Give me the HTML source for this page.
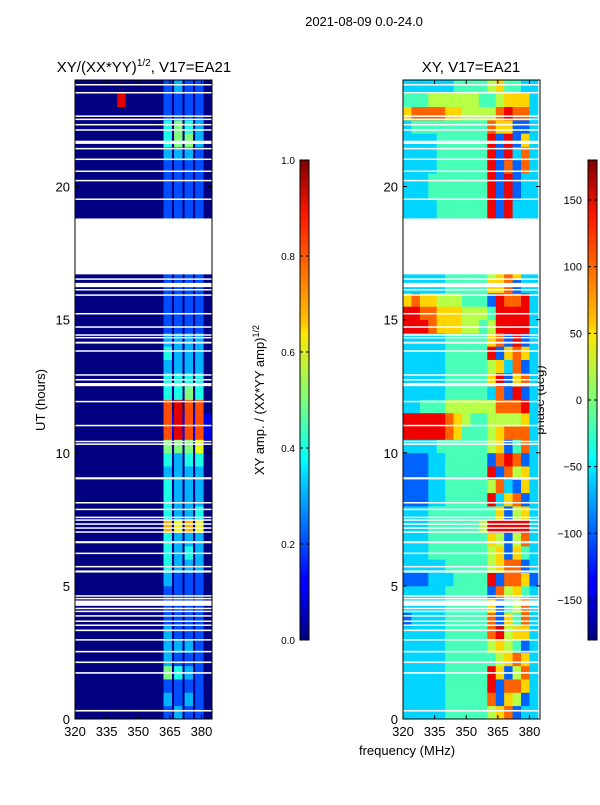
<!DOCTYPE html>
<html><head><meta charset="utf-8"><style>
body{margin:0;background:#fff;}
svg text{font-family:"Liberation Sans",sans-serif;fill:#000;}
</style></head><body>
<svg id="fig" width="600" height="800" xmlns="http://www.w3.org/2000/svg">
<defs>
<linearGradient id="jet" x1="0" y1="1" x2="0" y2="0">
<stop offset="0" stop-color="#00007f"/><stop offset="0.11" stop-color="#0000ff"/><stop offset="0.125" stop-color="#0000ff"/>
<stop offset="0.34" stop-color="#00d4ff"/><stop offset="0.375" stop-color="#00ffff"/><stop offset="0.5" stop-color="#7dff7a"/>
<stop offset="0.64" stop-color="#ffe600"/><stop offset="0.66" stop-color="#ffc400"/><stop offset="0.89" stop-color="#ff1300"/><stop offset="1" stop-color="#7f0000"/>
</linearGradient>
</defs>
<text x="364" y="26" font-size="13" text-anchor="middle">2021-08-09 0.0-24.0</text>
<text x="144" y="72" font-size="15" text-anchor="middle">XY/(XX*YY)<tspan font-size="10" dy="-6">1/2</tspan><tspan dy="6">, V17=EA21</tspan></text>
<text x="471" y="72" font-size="15" text-anchor="middle">XY, V17=EA21</text>
<text x="407" y="755" font-size="13" text-anchor="middle">frequency (MHz)</text>
<text transform="translate(45,400) rotate(-90)" font-size="13" text-anchor="middle">UT (hours)</text>
<text transform="translate(264,400) rotate(-90)" font-size="13" text-anchor="middle">XY amp. / (XX*YY amp)<tspan font-size="9" dy="-5">1/2</tspan></text>
<text transform="translate(544,400) rotate(-90)" font-size="13" text-anchor="middle">phase (deg)</text>
<g id="left"></g>
<g id="right"></g>
<g id="axes"></g>
<rect x="300" y="160" width="9" height="480" fill="url(#jet)" stroke="#000" stroke-width="1"/>
<rect x="588" y="160" width="9" height="480" fill="url(#jet)" stroke="#000" stroke-width="1"/>
<g id="cbars"></g>
</svg>
<script>
const ampFreqEdges=[320,324,328,332,336,340,344,348,352,356,360,362,366,367,371,372,376,377,381,385];
const phaseFreqEdges=[320,324,328,332,336,340,344,348,352,356,360,364,368,372,376,380,384];
const xTicks=[320,335,350,365,380];
const yTicks=[0,5,10,15,20];
const ampTicks=["0.0","0.2","0.4","0.6","0.8","1.0"];
const phaseTicks=[-150,-100,-50,0,50,100,150];
const ampRows=["0000000000020302020","0000000000030203020","0000000000020202020","0000000000050403020","0000000000030202020","0000000000030303020","0000000000030202020","0000000000020202020","0000000000020202020","0000000000020202020","0000000000030202020","0000000000040303030","0000000000040304030","0000000000040303030","0000000000070607060","0000000000040303040","0000000000040303030","0000000000040303030","0000000000030303030","0000000000040304040","0000000000050505060","0000000000081918181","0000000000081918181","0000000000080908080","0000000000040405040","0000000000040404040","0000000000030303030","0000000000040303030","0000000000030303030","0000000000020202020","0000000000020202020","0000000000020202020","0000000000020202020","0000000000020202020","0000000000000000000","0000000000000000000","0000000000000000000","0000000000020202020","0000000000020202020","0000000000020202020","0000000000020202020","0000000000020202020","0000000000030303020","0000000000040505030","0000000000040504030","0000000000020202020","0000090000020202020","0000000000020302020"];
const phaseRows=["3333344444567233","3333344444726523","3333344444827763","3333344444862573","3333344444456763","3333344444565423","3333344444785663","2333344444726473","3333344444624573","3333344444275643","2223334444827762","3333344444567723","3334444444562643","3334444444652573","3334444445888883","3334444444462563","2223344444836723","2223344444573263","2223344444827563","2223344444278723","3333444444562473","8888876444567773","8888876544555563","3344455555577783","3333344444372823","3333344444682673","3333344444563723","3333344444826763","3333344444672823","8887666554588883","8877666555488883","6766555444287783","3333344444667233","3333344444567633","0000000000000000","0000000000000000","0000000000000000","3333444444828333","3333444444828333","3334444444828233","3334444444828233","3333444444827273","3333444444828373","3333444444828263","3444444444766223","6777766555578773","4445555554456663","3333334444564433"];
const flags=[[0.28,0.34],[1.7,1.76],[2.1,2.16],[2.5,2.56],[2.95,3.0],[3.3,3.36],[3.5,3.55],[3.65,3.7],[3.85,3.9],[4.02,4.07],[4.13,4.18],[4.25,4.45],[4.5,4.55],[4.6,4.65],[5.5,5.58],[5.7,5.75],[6.2,6.25],[6.6,6.68],[7.0,7.05],[7.15,7.2],[7.3,7.35],[7.45,7.5],[7.55,7.6],[7.85,7.9],[8.1,8.15],[9.0,9.08],[10.3,10.35],[10.4,10.45],[11.0,11.05],[11.9,11.95],[12.5,12.62],[12.72,12.77],[12.9,12.95],[13.8,13.85],[14.1,14.17],[14.3,14.35],[14.4,14.45],[14.7,14.75],[15.2,15.25],[15.9,15.95],[16.1,16.15],[16.22,16.38],[16.5,16.55],[16.7,18.8],[19.5,19.55],[20.2,20.25],[20.55,20.6],[21.0,21.05],[21.4,21.45],[21.6,21.72],[22.1,22.15],[22.3,22.35],[22.5,22.55],[22.62,22.67],[23.5,23.55],[23.8,23.85]];
const NS="http://www.w3.org/2000/svg";
const PY0=719,PY1=80;
function yS(h){return PY0-(h/24)*(PY0-PY1);}
function xS(f,x0){return x0+Math.min(137,(f-320)*(137/65));}
function jet(v){v=Math.max(0,Math.min(1,v));
 const r=Math.max(0,Math.min(1,Math.min(4*v-1.5,-4*v+4.5)));
 const g=Math.max(0,Math.min(1,Math.min(4*v-0.5,-4*v+3.5)));
 const b=Math.max(0,Math.min(1,Math.min(4*v+0.5,-4*v+2.5)));
 return `rgb(${Math.round(r*255)},${Math.round(g*255)},${Math.round(b*255)})`;}
function mk(tag,attrs,parent){const e=document.createElementNS(NS,tag);for(const k in attrs)e.setAttribute(k,attrs[k]);parent.appendChild(e);return e;}
function drawMap(g,rows,edges,x0,conv){
 rows.forEach((row,r)=>{
  for(let c=0;c<edges.length-1;c++){
   const v=conv(+row[c]);
   const xa=xS(edges[c],x0),xb=xS(edges[c+1],x0);
   const ya=yS((r+1)/2),yb=yS(r/2);
   const e=mk('rect',{x:xa,y:ya,width:xb-xa+0.4,height:yb-ya+0.4,fill:jet(v)},g);
   
   
  }});
 flags.forEach(f=>{
  const e=mk('rect',{x:x0,y:yS(f[1]),width:137,height:Math.max(1.5,yS(f[0])-yS(f[1])),fill:'#fff'},g);
  
  
 });}
drawMap(document.getElementById('left'),ampRows,ampFreqEdges,75,d=>d/10);
drawMap(document.getElementById('right'),phaseRows,phaseFreqEdges,403,d=>d/9);
const ax=document.getElementById('axes');
[75,403].forEach((x0,i)=>{
 const fr=mk('rect',{x:x0,y:80,width:137,height:639,fill:'none',stroke:'#000','stroke-width':1},ax);
 
 
 xTicks.forEach(t=>{const x=xS(t,x0);
  mk('line',{x1:x,x2:x,y1:719,y2:715,stroke:'#000'},ax);mk('line',{x1:x,x2:x,y1:80,y2:84,stroke:'#000'},ax);
  const tx=mk('text',{x:x,y:736,'font-size':13,'text-anchor':'middle'},ax);tx.textContent=t;
  
  });
 yTicks.forEach(t=>{const y=yS(t);
  mk('line',{x1:x0,x2:x0+4,y1:y,y2:y,stroke:'#000'},ax);mk('line',{x1:x0+137,x2:x0+133,y1:y,y2:y,stroke:'#000'},ax);
  const tx=mk('text',{x:x0-5,y:y+5,'font-size':13,'text-anchor':'end'},ax);tx.textContent=t;
  
  });
});
const cb=document.getElementById('cbars');
ampTicks.forEach((t,i)=>{const y=640-i*96;
 mk('line',{x1:300,x2:303,y1:y,y2:y,stroke:'#000'},cb);mk('line',{x1:306,x2:309,y1:y,y2:y,stroke:'#000'},cb);
 const tx=mk('text',{x:295,y:y+4,'font-size':10,'text-anchor':'end'},cb);tx.textContent=t;
 
 });
phaseTicks.forEach(t=>{const y=640-(t+180)/360*480;
 mk('line',{x1:588,x2:591,y1:y,y2:y,stroke:'#000'},cb);mk('line',{x1:594,x2:597,y1:y,y2:y,stroke:'#000'},cb);
 const tx=mk('text',{x:582,y:y+4,'font-size':11,'text-anchor':'end'},cb);tx.textContent=t<0?'\u2212'+(-t):t;
 
 });
</script>
</body></html>
